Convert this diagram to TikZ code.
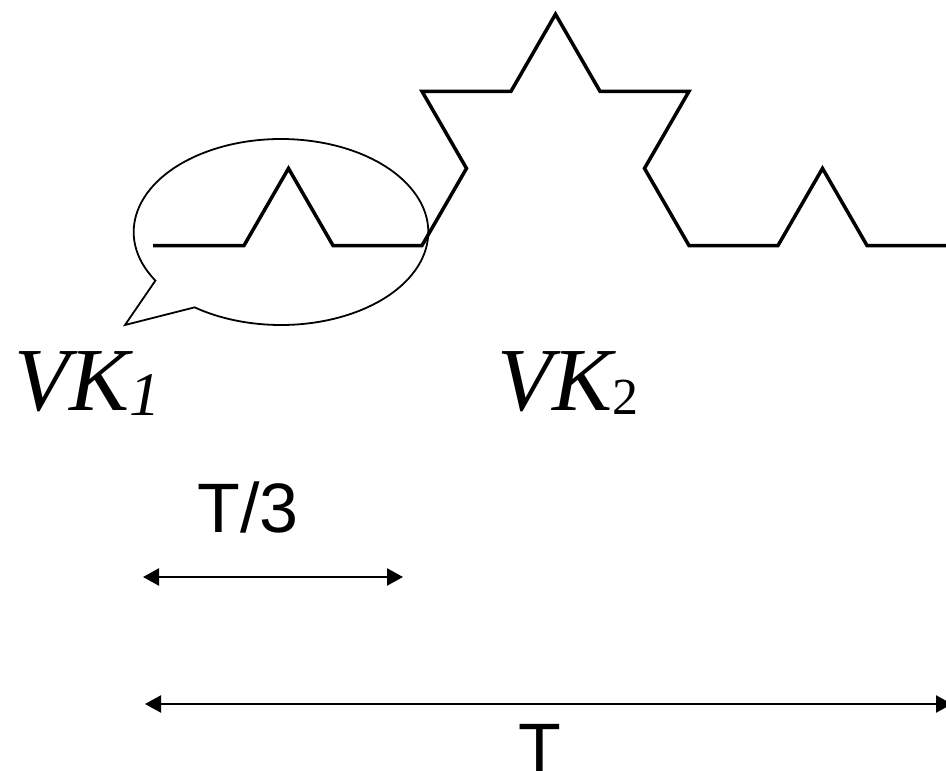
\documentclass[tikz,border=0pt]{standalone}
\usepackage{fontspec}
\setmainfont{Liberation Serif}
\newfontfamily\sansf{Liberation Sans}
\usetikzlibrary{arrows.meta}
\begin{document}
\begin{tikzpicture}[x=1pt,y=-1pt,
  koch/.style={line width=3.5pt, line join=miter, black},
  bubble/.style={line width=1.8pt, line join=miter},
  dim/.style={line width=2.3pt, {Triangle[length=16pt,width=17pt]}-{Triangle[length=16pt,width=17pt]}},
  vk/.style={anchor=base west, inner sep=0pt, font=\fontsize{90}{90}\selectfont\itshape},
  lbl/.style={anchor=base, inner sep=0pt, font=\sansf\fontsize{70}{70}\selectfont}]
\useasboundingbox (0,0) rectangle (946,771);
\clip (0,0) rectangle (946,771);
% Koch curve (level 2)
\draw[koch] (153,245.5) -- (244,245.5) -- (288.5,168.4) -- (333,245.5) -- (422,245.5)
  -- (466.5,168.4) -- (422,91.3) -- (511,91.3) -- (555.5,14.2) -- (600,91.3) -- (689,91.3)
  -- (644.5,168.4) -- (689,245.5) -- (778,245.5) -- (822.5,168.4) -- (867,245.5) -- (956,245.5);
% speech bubble
\draw[bubble] (155.4,280.6) arc[start angle=148.5, end angle=485.9, x radius=147.3, y radius=93]
  -- (125,325) -- cycle;
% labels
\node[vk] (vk1) at (14,410) {VK\raisebox{-5pt}{\fontsize{62}{62}\selectfont 1}};
\node[vk] (vk2) at (497,410) {VK\raisebox{-4pt}{\fontsize{52}{52}\selectfont\upshape 2}};
\node[lbl] (t3) at (248,532) {T/3};
\node[lbl] (t) at (540,772) {T};
% dimension arrows
\coordinate (a1) at (143,577);
\coordinate (a2) at (403,577);
\draw[dim] (a1) -- (a2);
\coordinate (b1) at (145,704);
\coordinate (b2) at (952,704);
\draw[dim] (b1) -- (b2);
\end{tikzpicture}
\end{document}
